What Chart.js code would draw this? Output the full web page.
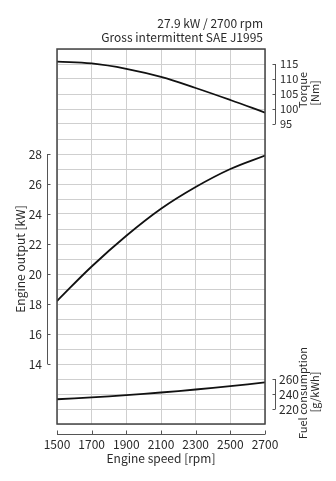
<!DOCTYPE html>
<html>
<head>
<meta charset="utf-8">
<script src="https://cdn.jsdelivr.net/npm/chart.js@4"></script>
<style>
  html, body { margin: 0; padding: 0; background: #fff; }
  #wrap { width: 336px; height: 481px; position: relative; }
</style>
</head>
<body>
<div id="wrap"><canvas id="myChart"></canvas></div>
<script>
// valeurs
const speeds = [1500, 1700, 1900, 2100, 2300, 2500, 2700];
const outputKw = [18.2, 20.5, 22.55, 24.35, 25.8, 27.0, 27.9];
const torqueNm = [115.8, 115.2, 113.4, 110.7, 107.0, 103.0, 98.8];
const fuelGkwh = [233, 235.5, 238.5, 242, 246, 250.5, 255.5];

const speedTicks = [1500, 1700, 1900, 2100, 2300, 2500, 2700];
const outputTicks = [14, 16, 18, 20, 22, 24, 26, 28];
const torqueTicks = [95, 100, 105, 110, 115];
const fuelTicks = [220, 240, 260];

const titleLines = ['27.9 kW / 2700 rpm', 'Gross intermittent SAE J1995'];

const FONT = '"Noto Sans CJK JP", "DejaVu Sans", sans-serif';
const INK = '#2a2a2a';
Chart.defaults.font.family = FONT;

// axes "crochet" dessinés à côté du graphique
const bracketAxes = {
  id: 'bracketAxes',
  afterDraw(chart) {
    const ctx = chart.ctx;
    const a = chart.chartArea;
    const sx = chart.scales.x, sp = chart.scales.yP, st = chart.scales.yT, sf = chart.scales.yF;
    ctx.save();

    // cadre
    ctx.strokeStyle = '#444';
    ctx.lineWidth = 1.5;
    ctx.strokeRect(a.left, a.top, a.right - a.left, a.bottom - a.top);

    ctx.strokeStyle = '#555';
    ctx.lineWidth = 1;
    ctx.fillStyle = INK;
    ctx.font = '12px ' + FONT;

    // axe gauche
    const lx = 47.5;
    ctx.beginPath();
    ctx.moveTo(lx, sp.getPixelForValue(outputTicks[outputTicks.length - 1]));
    ctx.lineTo(lx, sp.getPixelForValue(outputTicks[0]));
    outputTicks.forEach(v => {
      const y = Math.round(sp.getPixelForValue(v)) + 0.5;
      ctx.moveTo(lx, y); ctx.lineTo(lx + 3, y);
    });
    ctx.stroke();
    ctx.textAlign = 'right';
    ctx.textBaseline = 'middle';
    outputTicks.forEach(v => ctx.fillText(String(v), 42, sp.getPixelForValue(v)));

    // axe bas
    const by = 434.5;
    ctx.beginPath();
    ctx.moveTo(sx.getPixelForValue(speedTicks[0]), by);
    ctx.lineTo(sx.getPixelForValue(speedTicks[speedTicks.length - 1]), by);
    speedTicks.forEach(v => {
      const x = Math.round(sx.getPixelForValue(v)) + 0.5;
      ctx.moveTo(x, by); ctx.lineTo(x, by - 4);
    });
    ctx.stroke();
    ctx.textAlign = 'center';
    speedTicks.forEach(v => ctx.fillText(String(v), sx.getPixelForValue(v), 444));
    ctx.fillText('Engine speed [rpm]', (a.left + a.right) / 2, 458);

    // axes droits
    const rx = 275.5;
    [[st, torqueTicks], [sf, fuelTicks]].forEach(([s, ticks]) => {
      ctx.beginPath();
      ctx.moveTo(rx, s.getPixelForValue(ticks[ticks.length - 1]));
      ctx.lineTo(rx, s.getPixelForValue(ticks[0]));
      ticks.forEach(v => {
        const y = Math.round(s.getPixelForValue(v)) + 0.5;
        ctx.moveTo(rx, y); ctx.lineTo(rx - 3, y);
      });
      ctx.stroke();
    });
    ctx.textAlign = 'left';
    ctx.font = '11px ' + FONT;
    torqueTicks.forEach(v => ctx.fillText(String(v), 280, st.getPixelForValue(v)));
    ctx.font = '12px ' + FONT;
    fuelTicks.forEach(v => ctx.fillText(String(v), 279, sf.getPixelForValue(v)));

    // titre en haut
    ctx.textAlign = 'right';
    ctx.fillText(titleLines[0], 263, 23);
    ctx.fillText(titleLines[1], 263, 37);

    // titres verticaux
    const vtext = (txt, x, y) => {
      ctx.save();
      ctx.translate(x, y);
      ctx.rotate(-Math.PI / 2);
      ctx.textAlign = 'center';
      ctx.textBaseline = 'middle';
      ctx.fillText(txt, 0, 0);
      ctx.restore();
    };
    vtext('Engine output [kW]', 20, 259);
    ctx.font = '11px ' + FONT;
    vtext('Torque', 303, 90);
    vtext('[Nm]', 315, 93);
    vtext('Fuel consumption', 303, 393);
    vtext('[g/kWh]', 315, 392);

    ctx.restore();
  }
};

const lineStyle = {
  borderColor: '#111',
  borderWidth: 1.8,
  pointRadius: 0,
  fill: false,
  tension: 0.4
};

new Chart(
  document.getElementById('myChart'),
  {
    type: 'line',
    data: {
      datasets: [
        { ...lineStyle, label: 'Torque', yAxisID: 'yT', data: speeds.map((s, i) => ({ x: s, y: torqueNm[i] })) },
        { ...lineStyle, label: 'Engine output', yAxisID: 'yP', data: speeds.map((s, i) => ({ x: s, y: outputKw[i] })) },
        { ...lineStyle, label: 'Fuel consumption', yAxisID: 'yF', data: speeds.map((s, i) => ({ x: s, y: fuelGkwh[i] })) }
      ]
    },
    options: {
      responsive: true,
      maintainAspectRatio: false,
      animation: false,
      layout: { padding: { left: 57, top: 49, right: 71, bottom: 57 } },
      scales: {
        x: {
          type: 'linear',
          min: 1500,
          max: 2700,
          border: { display: false },
          grid: { color: '#cfcfcf', lineWidth: 1, drawTicks: false },
          ticks: { display: false, stepSize: 200 }
        },
        yP: {
          position: 'left',
          min: 10,
          max: 35,
          border: { display: false },
          grid: { color: '#cfcfcf', lineWidth: 1, drawTicks: false },
          ticks: { display: false, stepSize: 1 }
        },
        yT: { display: false, position: 'right', min: -5, max: 120 },
        yF: { display: false, position: 'right', min: 200, max: 700 }
      },
      plugins: {
        legend: { display: false },
        tooltip: { enabled: false }
      }
    },
    plugins: [bracketAxes]
  }
);
</script>
</body>
</html>
